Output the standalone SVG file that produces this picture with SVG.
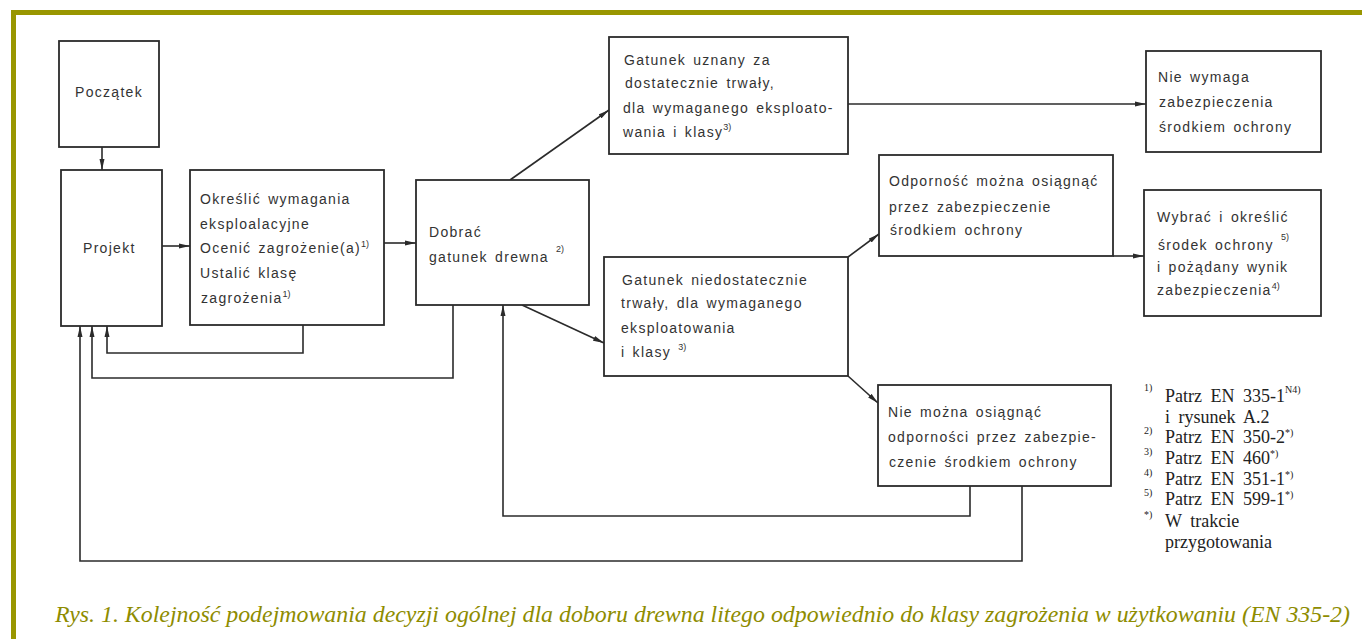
<svg xmlns="http://www.w3.org/2000/svg" width="1362" height="639" viewBox="0 0 1362 639">
<style>
.box{fill:#fff;stroke:#2b2b2b;stroke-width:1.8}
.t{font-family:"Liberation Sans",Arial,sans-serif;font-size:14px;fill:#333;letter-spacing:1.3px;word-spacing:2px}
.sup{font-size:9px;letter-spacing:0}
.c{fill:none;stroke:#2b2b2b;stroke-width:1.6}
.fn{font-family:"Liberation Serif","Times New Roman",serif;font-size:18px;fill:#222;word-spacing:4px}
.fs{font-size:10px;word-spacing:0}
.cap{font-family:"Liberation Serif","Times New Roman",serif;font-style:italic;font-size:24px;fill:#8e8c00}
</style>
<defs>
<marker id="ah" markerUnits="userSpaceOnUse" markerWidth="12" markerHeight="6" refX="11" refY="3" orient="auto">
<path d="M0,0.5 L11,3 L0,5.5 z" fill="#2b2b2b"/>
</marker>
</defs>
<rect width="1362" height="639" fill="#fff"/>
<rect x="11" y="10" width="1351" height="5" fill="#999600"/>
<rect x="11" y="10" width="5" height="629" fill="#999600"/>

<g id="connectors">
<line class="c" x1="102" y1="147" x2="102" y2="170" marker-end="url(#ah)"/>
<line class="c" x1="162" y1="246" x2="190" y2="246" marker-end="url(#ah)"/>
<line class="c" x1="384" y1="243" x2="416" y2="243" marker-end="url(#ah)"/>
<line class="c" x1="510" y1="180" x2="609" y2="110" marker-end="url(#ah)"/>
<line class="c" x1="848" y1="104" x2="1146" y2="104" marker-end="url(#ah)"/>
<line class="c" x1="522" y1="305" x2="604" y2="343" marker-end="url(#ah)"/>
<line class="c" x1="848" y1="257" x2="879" y2="234" marker-end="url(#ah)"/>
<line class="c" x1="1113" y1="256" x2="1144" y2="256" marker-end="url(#ah)"/>
<line class="c" x1="848" y1="376" x2="878" y2="403" marker-end="url(#ah)"/>
<path class="c" d="M303,325 V353 H107 V326" marker-end="url(#ah)"/>
<path class="c" d="M453,305 V378 H92 V326" marker-end="url(#ah)"/>
<path class="c" d="M970,486 V516 H503 V305" marker-end="url(#ah)"/>
<path class="c" d="M1022,486 V561 H80 V326" marker-end="url(#ah)"/>
</g>

<g id="poczatek">
<rect class="box" x="59" y="41" width="100" height="106"/>
<text class="t" x="75" y="97">Początek</text>
</g>
<g id="projekt">
<rect class="box" x="61" y="170" width="101" height="156"/>
<text class="t" x="83" y="253">Projekt</text>
</g>
<g id="okreslic">
<rect class="box" x="190" y="170" width="194" height="155"/>
<text class="t" x="200" y="204">Określić wymagania</text>
<text class="t" x="200" y="229">eksploalacyjne</text>
<text class="t" x="200" y="253">Ocenić zagrożenie(a)<tspan class="sup" dy="-6">1)</tspan></text>
<text class="t" x="200" y="278">Ustalić klasę</text>
<text class="t" x="201" y="303">zagrożenia<tspan class="sup" dy="-6">1)</tspan></text>
</g>
<g id="dobrac">
<rect class="box" x="416" y="180" width="173" height="125"/>
<text class="t" x="429" y="237">Dobrać</text>
<text class="t" x="429" y="262">gatunek drewna <tspan class="sup" dy="-10" font-size="11px">2)</tspan></text>
</g>
<g id="uznany">
<rect class="box" x="609" y="37" width="239" height="117"/>
<text class="t" x="624" y="65">Gatunek uznany za</text>
<text class="t" x="625" y="88">dostatecznie trwały,</text>
<text class="t" x="623" y="113">dla wymaganego eksploato-</text>
<text class="t" x="623" y="137">wania i klasy<tspan class="sup" dy="-7">3)</tspan></text>
</g>
<g id="niedostatecznie">
<rect class="box" x="604" y="257" width="244" height="119"/>
<text class="t" x="622" y="285">Gatunek niedostatecznie</text>
<text class="t" x="621" y="308">trwały, dla wymaganego</text>
<text class="t" x="621" y="333">eksploatowania</text>
<text class="t" x="621" y="357">i klasy <tspan class="sup" dy="-7" font-size="11px">3)</tspan></text>
</g>
<g id="nie-wymaga">
<rect class="box" x="1146" y="51" width="175" height="101"/>
<text class="t" x="1158" y="82">Nie wymaga</text>
<text class="t" x="1159" y="107">zabezpieczenia</text>
<text class="t" x="1159" y="132">środkiem ochrony</text>
</g>
<g id="odpornosc">
<rect class="box" x="879" y="155" width="234" height="101"/>
<text class="t" x="889" y="186">Odporność można osiągnąć</text>
<text class="t" x="889" y="212">przez zabezpieczenie</text>
<text class="t" x="890" y="235">środkiem ochrony</text>
</g>
<g id="wybrac">
<rect class="box" x="1144" y="190" width="177" height="126"/>
<text class="t" x="1157" y="222">Wybrać i określić</text>
<text class="t" x="1158" y="250">środek ochrony <tspan class="sup" dy="-10">5)</tspan></text>
<text class="t" x="1157" y="272">i pożądany wynik</text>
<text class="t" x="1157" y="295">zabezpieczenia<tspan class="sup" dy="-6">4)</tspan></text>
</g>
<g id="nie-mozna">
<rect class="box" x="878" y="385" width="233" height="101"/>
<text class="t" x="888" y="417">Nie można osiągnąć</text>
<text class="t" x="888" y="442">odporności przez zabezpie-</text>
<text class="t" x="889" y="467">czenie środkiem ochrony</text>
</g>

<g id="footnotes">
<text class="fn fs" x="1144" y="391">1)</text>
<text class="fn" x="1165" y="402">Patrz EN 335-1<tspan class="fs" dy="-9">N4)</tspan></text>
<text class="fn" x="1165" y="423">i rysunek A.2</text>
<text class="fn fs" x="1144" y="434">2)</text>
<text class="fn" x="1165" y="443">Patrz EN 350-2<tspan class="fs" dy="-7">*)</tspan></text>
<text class="fn fs" x="1144" y="455">3)</text>
<text class="fn" x="1165" y="464">Patrz EN 460<tspan class="fs" dy="-7">*)</tspan></text>
<text class="fn fs" x="1144" y="476">4)</text>
<text class="fn" x="1165" y="485">Patrz EN 351-1<tspan class="fs" dy="-7">*)</tspan></text>
<text class="fn fs" x="1144" y="496">5)</text>
<text class="fn" x="1165" y="505">Patrz EN 599-1<tspan class="fs" dy="-7">*)</tspan></text>
<text class="fn fs" x="1144" y="518">*)</text>
<text class="fn" x="1165" y="527">W trakcie</text>
<text class="fn" x="1165" y="548">przygotowania</text>
</g>

<text class="cap" x="55" y="622" textLength="1295" lengthAdjust="spacingAndGlyphs">Rys. 1. Kolejność podejmowania decyzji ogólnej dla doboru drewna litego odpowiednio do klasy zagrożenia w użytkowaniu (EN 335-2)</text>
</svg>
